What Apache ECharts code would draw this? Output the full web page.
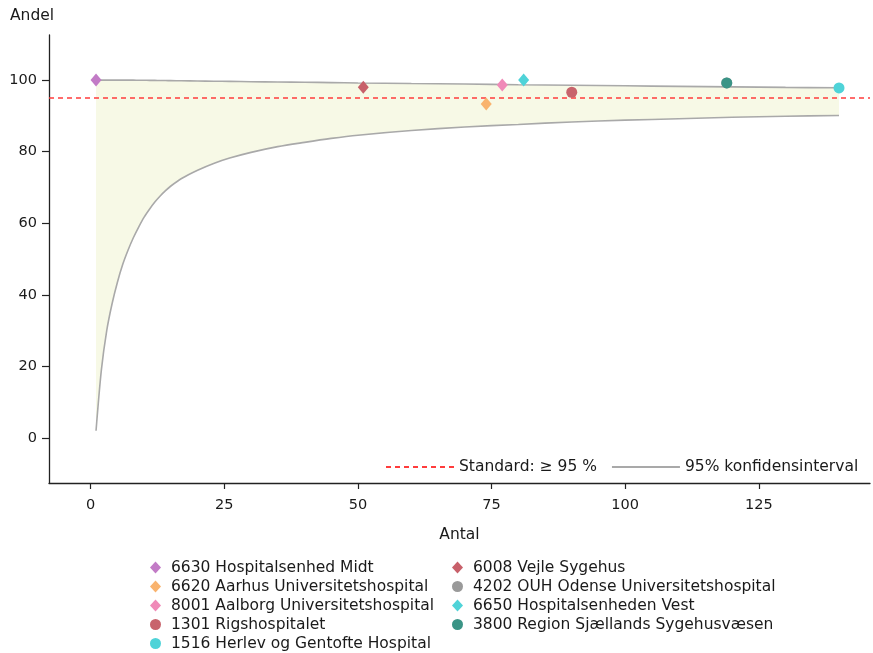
<!DOCTYPE html>
<html>
<head>
<meta charset="utf-8">
<script src="https://cdn.jsdelivr.net/npm/echarts@6/dist/echarts.min.js"></script>
<style>
  html, body { margin: 0; padding: 0; background: #fff; }
  #main { width: 873px; height: 653px; }
</style>
</head>
<body>
<div id="main"></div>
<script>
// 95% konfidensinterval (tragt)
var ciN = [1, 2, 3, 4, 5, 6, 7, 8, 9, 10, 11, 12, 13, 14, 15, 17, 20, 23, 26, 30, 35, 40, 45, 50, 60, 70, 80, 90, 100, 110, 120, 130, 140];
var ciLower = [2, 19, 30, 37.5, 43.5, 48.5, 52.5, 56, 59, 61.7, 63.9, 65.9, 67.6, 69.1, 70.4, 72.5, 74.8, 76.7, 78.2, 79.8, 81.4, 82.6, 83.7, 84.6, 85.9, 86.9, 87.6, 88.3, 88.8, 89.2, 89.6, 89.9, 90.1];
var ciUpper = [100, 100, 100, 100, 100, 100, 100, 99.98, 99.97, 99.95, 99.93, 99.91, 99.89, 99.87, 99.85, 99.81, 99.75, 99.69, 99.63, 99.55, 99.47, 99.4, 99.3, 99.2, 99.05, 98.9, 98.7, 98.55, 98.4, 98.25, 98.1, 97.95, 97.85];

// afdelinger
var hospitals = [
	'6630 Hospitalsenhed Midt',
	'6620 Aarhus Universitetshospital',
	'8001 Aalborg Universitetshospital',
	'1301 Rigshospitalet',
	'1516 Herlev og Gentofte Hospital',
	'6008 Vejle Sygehus',
	'4202 OUH Odense Universitetshospital',
	'6650 Hospitalsenheden Vest',
	'3800 Region Sjællands Sygehusvæsen'
];
var antal = [1, 74, 77, 90, 140, 51, 119, 81, 119];
var andel = [100, 93.3, 98.6, 96.6, 97.8, 98.0, 99.2, 100, 99.2];

var standard = 95;
var xTicks = [0, 25, 50, 75, 100, 125];
var yTicks = [0, 20, 40, 60, 80, 100];

var symbols = ['diamond', 'diamond', 'diamond', 'circle', 'circle', 'diamond', 'circle', 'diamond', 'circle'];
var colors = ['#c27bc6', '#f9b36e', '#f08ab8', '#c8646c', '#4fd3d8', '#c8606a', '#9a9a9a', '#4fd3d8', '#3a9486'];

var font = 'DejaVu Sans';
var ciColor = '#a9a9a9';
var redColor = '#ff3c3c';

var myChart = echarts.init(document.getElementById('main'));

function pairs(xs, ys) {
	var out = [];
	for (var i = 0; i < xs.length; i++) out.push([xs[i], ys[i]]);
	return out;
}

var series = [
	// gult område under øvre grænse
	{
		name: 'ciFill', type: 'line', data: pairs(ciN, ciUpper),
		symbol: 'none', smooth: 0.3, silent: true,
		lineStyle: { opacity: 0 }, areaStyle: { color: '#f7f9e6', opacity: 1, origin: -12 }, z: 1
	},
	// hvid maske under nedre grænse
	{
		name: 'ciMask', type: 'line', data: pairs(ciN, ciLower),
		symbol: 'none', smooth: 0.3, silent: true,
		lineStyle: { opacity: 0 }, areaStyle: { color: '#ffffff', opacity: 1, origin: -12.2 }, z: 1
	},
	{
		name: '95% konfidensinterval', type: 'line', data: pairs(ciN, ciLower),
		symbol: 'none', smooth: 0.3, color: ciColor,
		lineStyle: { color: ciColor, width: 1.6 }, z: 2
	},
	{
		name: '95% konfidensinterval', type: 'line', data: pairs(ciN, ciUpper),
		symbol: 'none', smooth: 0.3, color: ciColor,
		lineStyle: { color: ciColor, width: 1.6 }, z: 2
	},
	{
		name: 'Standard: ≥ 95 %', type: 'line', data: [], symbol: 'none', color: redColor,
		lineStyle: { color: redColor, width: 1.5, type: [5, 4] },
		markLine: {
			silent: true, symbol: 'none', label: { show: false },
			lineStyle: { color: redColor, width: 1.7, type: [5, 4] },
			data: [{ yAxis: standard }]
		},
		z: 3
	}
];

for (var k = 0; k < hospitals.length; k++) {
	series.push({
		name: hospitals[k], type: 'scatter',
		data: [[antal[k], andel[k]]],
		symbol: symbols[k],
		symbolSize: symbols[k] == 'diamond' ? [11, 13] : 11,
		itemStyle: { color: colors[k], opacity: 1 },
		z: 5
	});
}

var legendText = { fontFamily: font, fontSize: 15.5, color: '#1a1a1a', lineHeight: 19 };
var legendFmt = function (name) { return ' ' + name; };

var option = {
	animation: false,
	backgroundColor: '#fff',
	textStyle: { fontFamily: font },
	title: {
		text: 'Andel', left: 10, top: 8, padding: 0,
		textStyle: { fontFamily: font, fontSize: 15.5, fontWeight: 'normal', color: '#1a1a1a' }
	},
	grid: { left: 49, right: 3, top: 35, bottom: 170, containLabel: false },
	xAxis: {
		type: 'value', min: -7.8, max: 145.8,
		name: 'Antal', nameLocation: 'middle', nameGap: 44,
		nameTextStyle: { fontFamily: font, fontSize: 15.5, color: '#1a1a1a' },
		splitLine: { show: false },
		axisLine: { onZero: false, lineStyle: { color: '#222', width: 1.3 } },
		axisTick: { show: true, length: 6, customValues: xTicks, lineStyle: { color: '#222', width: 1.2 } },
		axisLabel: { customValues: xTicks, margin: 15, fontFamily: font, fontSize: 14.5, color: '#1a1a1a' }
	},
	yAxis: {
		type: 'value', min: -12.6, max: 112.6,
		splitLine: { show: false },
		axisLine: { show: true, onZero: false, lineStyle: { color: '#222', width: 1.3 } },
		axisTick: { show: true, length: 7, customValues: yTicks, lineStyle: { color: '#222', width: 1.2 } },
		axisLabel: { customValues: yTicks, margin: 12, fontFamily: font, fontSize: 14.5, color: '#1a1a1a' }
	},
	legend: [
		{
			orient: 'vertical', left: 150, top: 558, padding: 0, itemGap: 0,
			itemWidth: 11, itemHeight: 12,
			data: hospitals.slice(0, 5), formatter: legendFmt, textStyle: legendText, selectedMode: false
		},
		{
			orient: 'vertical', left: 452, top: 558, padding: 0, itemGap: 0,
			itemWidth: 11, itemHeight: 12,
			data: hospitals.slice(5), formatter: legendFmt, textStyle: legendText, selectedMode: false
		},
		{
			orient: 'horizontal', left: 385, top: 459, padding: 0, itemGap: 14,
			itemWidth: 68, itemHeight: 14,
			itemStyle: { opacity: 0 },
			data: ['Standard: ≥ 95 %', '95% konfidensinterval'],
			textStyle: { fontFamily: font, fontSize: 15.5, color: '#1a1a1a' },
			selectedMode: false
		}
	],
	series: series
};

myChart.setOption(option);
</script>
</body>
</html>
